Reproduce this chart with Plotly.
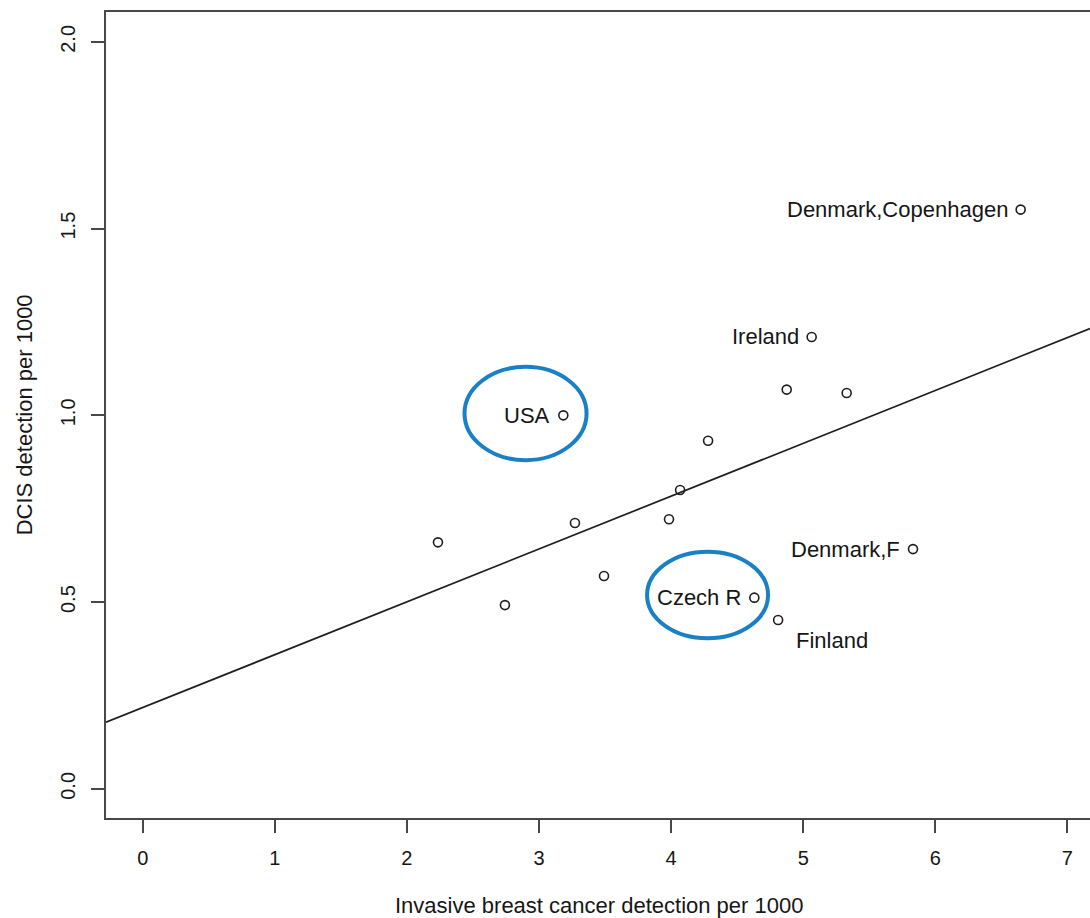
import numpy as np
import plotly.graph_objects as go

# Screening programmes: invasive cancer vs DCIS detection (per 1000 screens)
invasive = [2.235, 2.742, 3.272, 3.492, 3.184, 3.984, 4.068, 4.280,
            4.630, 4.810, 4.875, 5.064, 5.329, 5.831, 6.646]
dcis = [0.660, 0.492, 0.712, 0.570, 1.000, 0.722, 0.800, 0.932,
        0.512, 0.452, 1.069, 1.210, 1.060, 0.642, 1.551]
names = ["", "", "", "", "USA", "", "", "",
         "Czech R", "Finland", "", "Ireland", "", "Denmark,F", "Denmark,Copenhagen"]

# Highlighted programmes: ellipse bounds (x0, x1, y0, y1) in data units
highlight_boxes = [(2.436, 3.360, 0.880, 1.130),
                   (3.818, 4.734, 0.403, 0.635)]

x_ticks = [0, 1, 2, 3, 4, 5, 6, 7]
y_ticks = [0.0, 0.5, 1.0, 1.5, 2.0]

FONT = "Liberation Sans, Arial, sans-serif"
INK = "#161616"
AXIS = "#484848"

x_range = [-0.278, 7.171]
y_range = [-0.078, 2.080]

# least-squares fit line across the whole panel
slope, intercept = np.polyfit(invasive, dcis, 1)
line_x = np.array(x_range)
line_y = intercept + slope * line_x

fig = go.Figure()

fig.add_trace(go.Scatter(
    x=line_x, y=line_y, mode="lines",
    line=dict(color="#1e1e1e", width=1.7),
    hoverinfo="skip", showlegend=False,
))

fig.add_trace(go.Scatter(
    x=invasive, y=dcis, mode="markers",
    marker=dict(symbol="circle-open", size=9, color="#1e1e1e",
                line=dict(width=1.6, color="#1e1e1e")),
    showlegend=False,
))

# country labels: most sit left of their point, Finland below-right
for xv, yv, name in zip(invasive, dcis, names):
    if not name:
        continue
    if name == "Finland":
        fig.add_annotation(x=xv, y=yv, text=name, showarrow=False,
                           xanchor="left", yanchor="middle",
                           xshift=16, yshift=-20,
                           font=dict(family=FONT, size=22, color=INK))
    else:
        fig.add_annotation(x=xv, y=yv, text=name, showarrow=False,
                           xanchor="right", yanchor="middle",
                           xshift=-11,
                           font=dict(family=FONT, size=22, color=INK))

for x0, x1, y0, y1 in highlight_boxes:
    fig.add_shape(type="circle", xref="x", yref="y",
                  x0=x0, x1=x1, y0=y0, y1=y1,
                  line=dict(color="#1a80c6", width=4))

# axis titles
fig.add_annotation(xref="paper", yref="paper", x=0.501, y=-0.108,
                   text="Invasive breast cancer detection per 1000",
                   showarrow=False, xanchor="center", yanchor="middle",
                   font=dict(family=FONT, size=22, color=INK))
fig.add_annotation(xref="paper", yref="paper", x=-0.083, y=0.5,
                   text="DCIS detection per 1000", textangle=-90,
                   showarrow=False, xanchor="center", yanchor="middle",
                   font=dict(family=FONT, size=22, color=INK))

fig.update_layout(
    width=1090, height=918,
    margin=dict(l=106, r=0, t=12, b=100),
    paper_bgcolor="white", plot_bgcolor="white",
    font=dict(family=FONT, color=INK),
    xaxis=dict(range=x_range, tickvals=x_ticks, ticktext=[str(v) for v in x_ticks],
               showgrid=False, zeroline=False,
               showline=True, linecolor=AXIS, linewidth=2, mirror=True,
               ticks="outside", ticklen=13, tickwidth=2, tickcolor=AXIS,
               tickfont=dict(family=FONT, size=20, color=INK),
               ticklabelstandoff=8),
    yaxis=dict(range=y_range, tickvals=y_ticks, ticktext=[f"{v:.1f}" for v in y_ticks],
               showgrid=False, zeroline=False,
               showline=True, linecolor=AXIS, linewidth=2, mirror=False,
               ticks="outside", ticklen=13, tickwidth=2, tickcolor=AXIS,
               tickangle=-90,
               tickfont=dict(family=FONT, size=20, color=INK),
               ticklabelstandoff=8),
)

fig.write_html("out.html")
